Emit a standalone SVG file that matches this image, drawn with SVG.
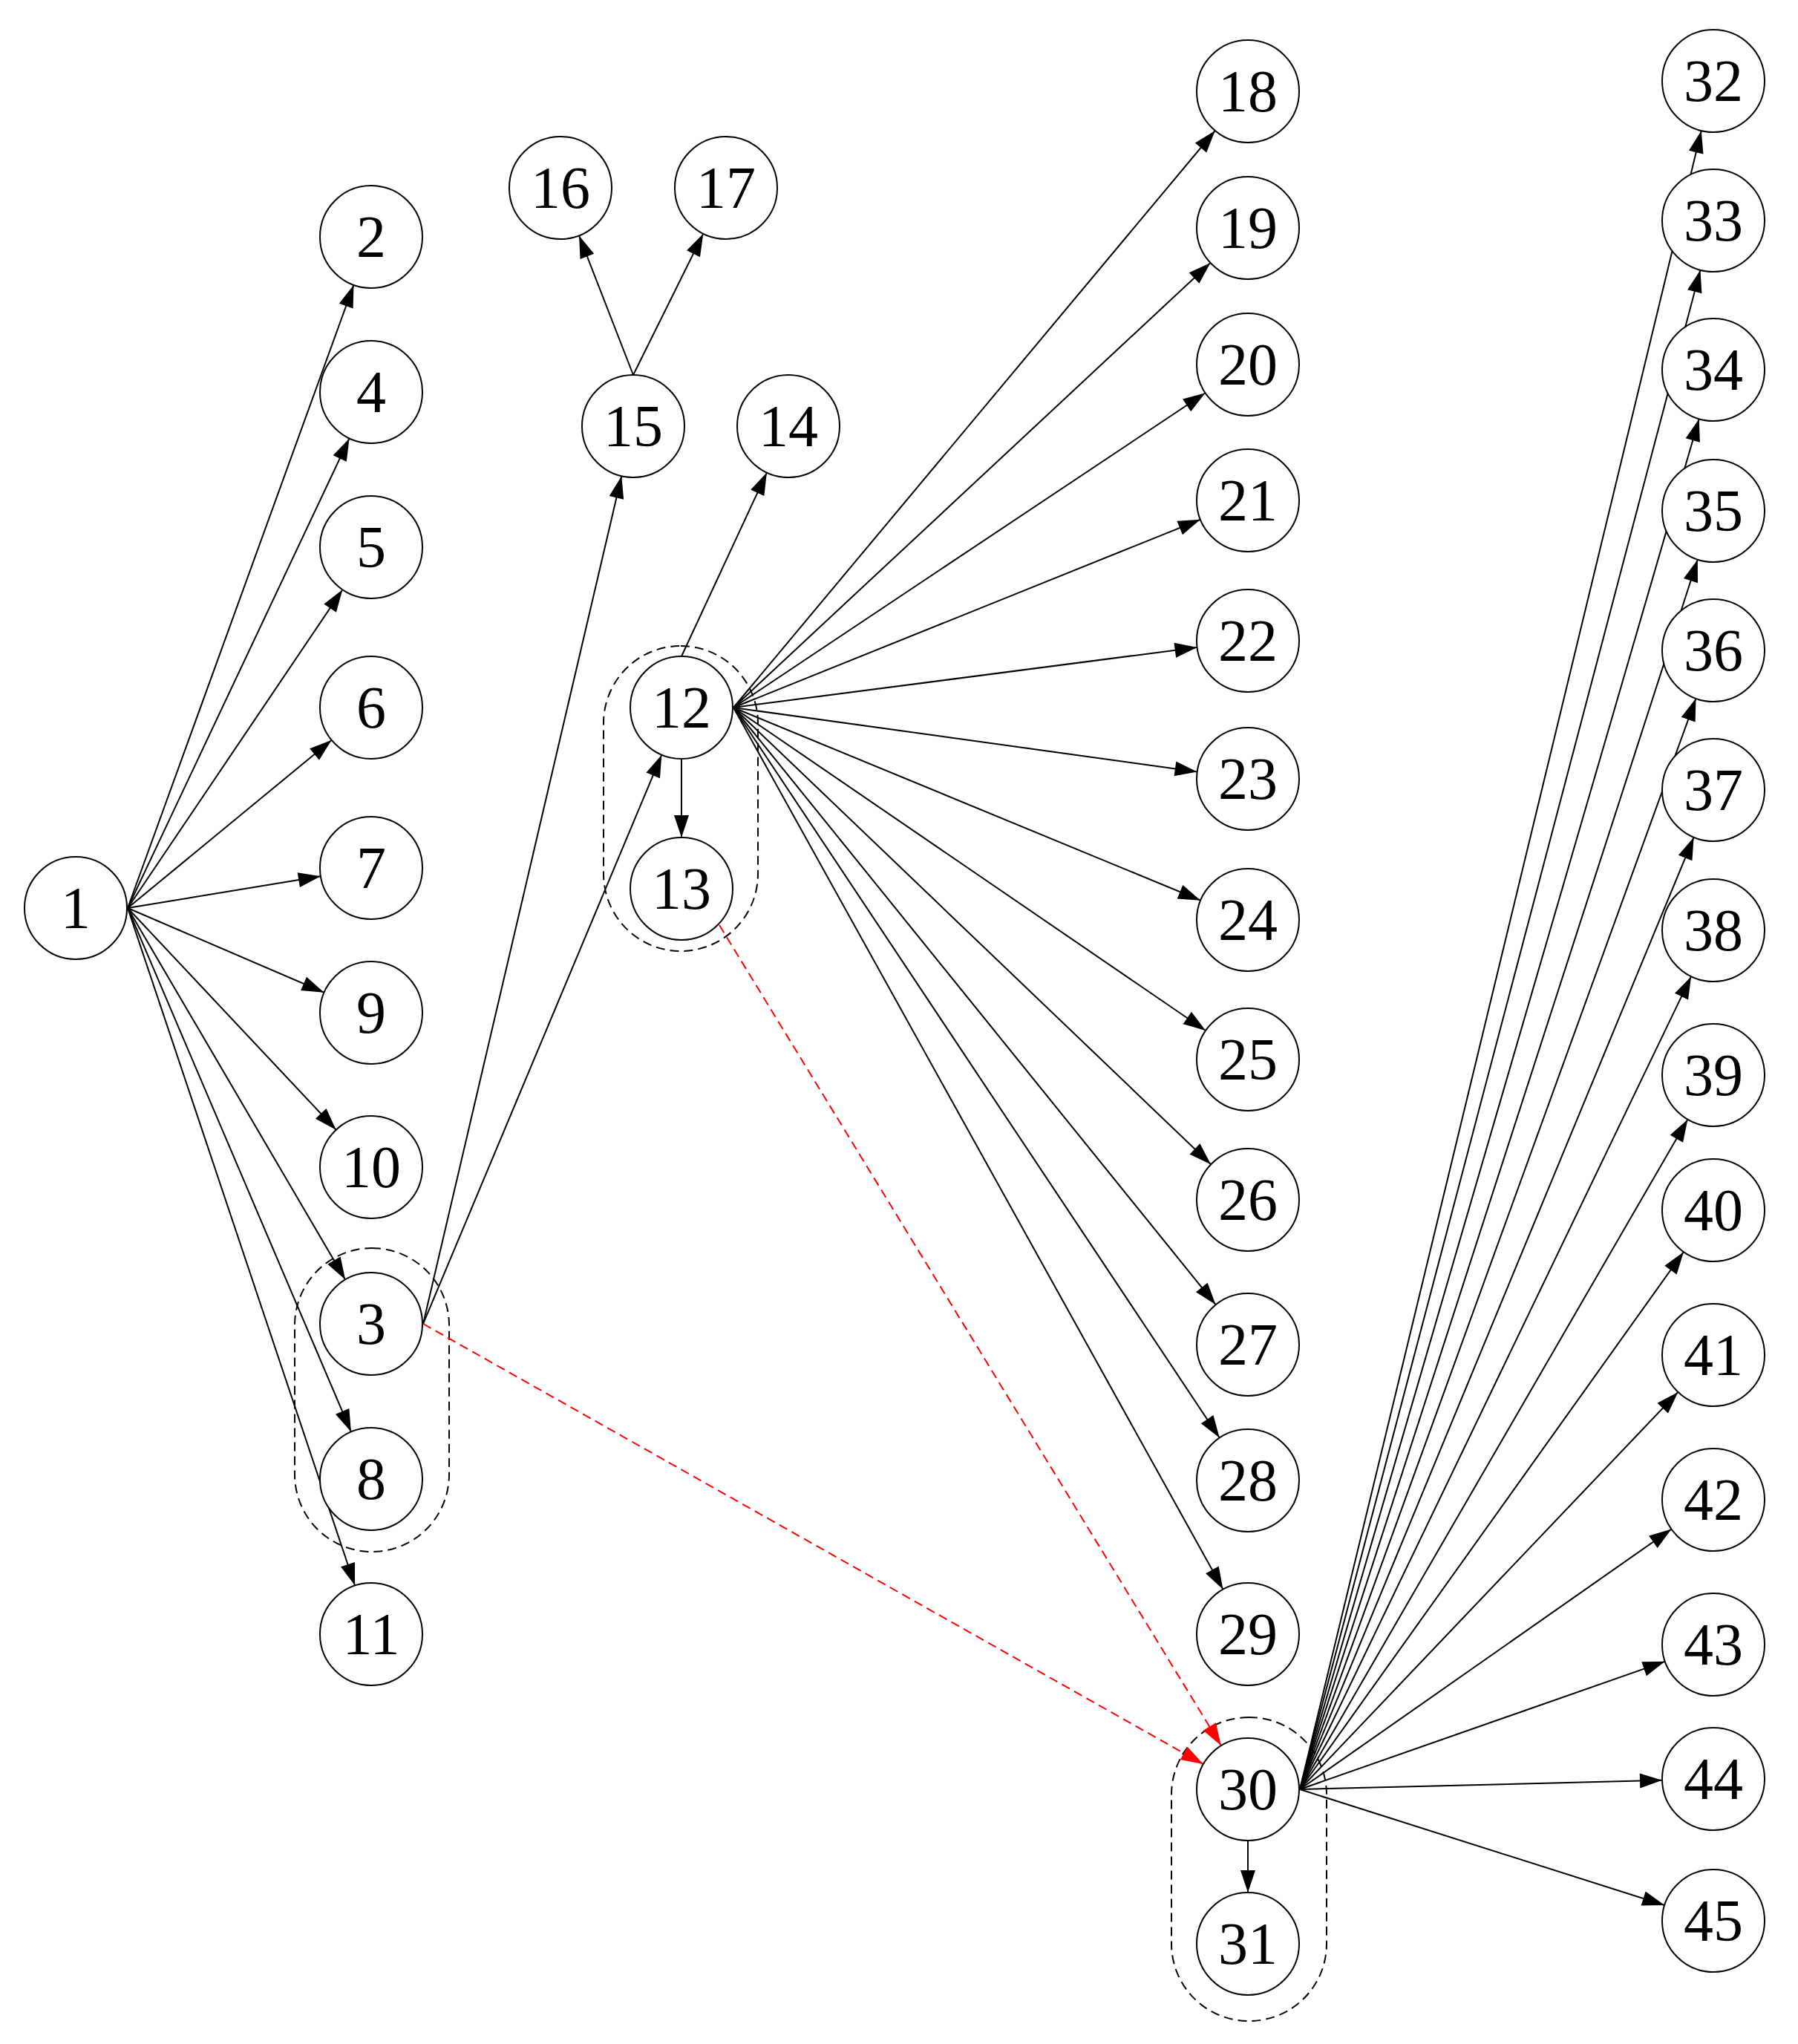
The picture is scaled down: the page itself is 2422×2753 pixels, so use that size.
<svg xmlns="http://www.w3.org/2000/svg" width="2422" height="2753" viewBox="0 0 2422 2753">
<style>
.n circle{fill:#fff;stroke:#000;stroke-width:2}
.n text{font-family:"Liberation Serif",serif;font-size:80px;text-anchor:middle;dominant-baseline:central}
.e line{stroke:#000;stroke-width:2;marker-end:url(#a)}
.r line{stroke:#f00;stroke-width:2;stroke-dasharray:12 7;marker-end:url(#ar)}
.c{fill:none;stroke:#000;stroke-width:2;stroke-dasharray:12 7}
</style>
<defs>
<marker id="a" markerUnits="userSpaceOnUse" markerWidth="110" markerHeight="30" viewBox="-35 -15 110 30" refX="69" refY="0" orient="auto"><path d="M-30,-10 L0,0 L-30,10 z" fill="#000"/></marker>
<marker id="ar" markerUnits="userSpaceOnUse" markerWidth="110" markerHeight="30" viewBox="-35 -15 110 30" refX="69" refY="0" orient="auto"><path d="M-30,-10 L0,0 L-30,10 z" fill="#f00"/></marker>
</defs>
<g id="clusters">
<rect class="c" x="397" y="1681" width="208" height="409" rx="104"/>
<rect class="c" x="813" y="870" width="208" height="411" rx="104"/>
<rect class="c" x="1578" y="2313" width="209" height="409" rx="104"/>
</g>
<g id="connectors">
<g class="e">
<line x1="172" y1="1223" x2="500" y2="319"/>
<line x1="172" y1="1223" x2="500" y2="528"/>
<line x1="172" y1="1223" x2="500" y2="737"/>
<line x1="172" y1="1223" x2="500" y2="953"/>
<line x1="172" y1="1223" x2="500" y2="1169"/>
<line x1="172" y1="1223" x2="500" y2="1364"/>
<line x1="172" y1="1223" x2="500" y2="1572"/>
<line x1="172" y1="1223" x2="500" y2="1783"/>
<line x1="172" y1="1223" x2="500" y2="1992"/>
<line x1="172" y1="1223" x2="500" y2="2201"/>
<line x1="570" y1="1783" x2="853" y2="574"/>
<line x1="570" y1="1783" x2="918" y2="953"/>
<line x1="853" y1="505" x2="755" y2="253"/>
<line x1="853" y1="505" x2="978" y2="253"/>
<line x1="918" y1="884" x2="1062" y2="574"/>
<line x1="918" y1="1022" x2="918" y2="1197"/>
<line x1="988" y1="953" x2="1681" y2="123"/>
<line x1="988" y1="953" x2="1681" y2="307"/>
<line x1="988" y1="953" x2="1681" y2="491"/>
<line x1="988" y1="953" x2="1681" y2="674"/>
<line x1="988" y1="953" x2="1681" y2="863"/>
<line x1="988" y1="953" x2="1681" y2="1049"/>
<line x1="988" y1="953" x2="1681" y2="1239"/>
<line x1="988" y1="953" x2="1681" y2="1427"/>
<line x1="988" y1="953" x2="1681" y2="1616"/>
<line x1="988" y1="953" x2="1681" y2="1811"/>
<line x1="988" y1="953" x2="1681" y2="1994"/>
<line x1="988" y1="953" x2="1681" y2="2201"/>
<line x1="1681" y1="2479" x2="1681" y2="2618"/>
<line x1="1751" y1="2410" x2="2308" y2="109"/>
<line x1="1751" y1="2410" x2="2308" y2="297"/>
<line x1="1751" y1="2410" x2="2308" y2="498"/>
<line x1="1751" y1="2410" x2="2308" y2="688"/>
<line x1="1751" y1="2410" x2="2308" y2="876"/>
<line x1="1751" y1="2410" x2="2308" y2="1064"/>
<line x1="1751" y1="2410" x2="2308" y2="1253"/>
<line x1="1751" y1="2410" x2="2308" y2="1448"/>
<line x1="1751" y1="2410" x2="2308" y2="1630"/>
<line x1="1751" y1="2410" x2="2308" y2="1825"/>
<line x1="1751" y1="2410" x2="2308" y2="2020"/>
<line x1="1751" y1="2410" x2="2308" y2="2215"/>
<line x1="1751" y1="2410" x2="2308" y2="2396"/>
<line x1="1751" y1="2410" x2="2308" y2="2587"/>
</g>
<g class="r">
<line x1="570" y1="1783" x2="1681" y2="2410"/>
<line x1="969" y1="1246" x2="1681" y2="2410"/>
</g>
</g>
<g id="nodes">
<g id="n1" class="n"><circle cx="102" cy="1223" r="69"/><text x="102" y="1223">1</text></g>
<g id="n2" class="n"><circle cx="500" cy="319" r="69"/><text x="500" y="319">2</text></g>
<g id="n4" class="n"><circle cx="500" cy="528" r="69"/><text x="500" y="528">4</text></g>
<g id="n5" class="n"><circle cx="500" cy="737" r="69"/><text x="500" y="737">5</text></g>
<g id="n6" class="n"><circle cx="500" cy="953" r="69"/><text x="500" y="953">6</text></g>
<g id="n7" class="n"><circle cx="500" cy="1169" r="69"/><text x="500" y="1169">7</text></g>
<g id="n9" class="n"><circle cx="500" cy="1364" r="69"/><text x="500" y="1364">9</text></g>
<g id="n10" class="n"><circle cx="500" cy="1572" r="69"/><text x="500" y="1572">10</text></g>
<g id="n3" class="n"><circle cx="500" cy="1783" r="69"/><text x="500" y="1783">3</text></g>
<g id="n8" class="n"><circle cx="500" cy="1992" r="69"/><text x="500" y="1992">8</text></g>
<g id="n11" class="n"><circle cx="500" cy="2201" r="69"/><text x="500" y="2201">11</text></g>
<g id="n15" class="n"><circle cx="853" cy="574" r="69"/><text x="853" y="574">15</text></g>
<g id="n14" class="n"><circle cx="1062" cy="574" r="69"/><text x="1062" y="574">14</text></g>
<g id="n16" class="n"><circle cx="755" cy="253" r="69"/><text x="755" y="253">16</text></g>
<g id="n17" class="n"><circle cx="978" cy="253" r="69"/><text x="978" y="253">17</text></g>
<g id="n12" class="n"><circle cx="918" cy="953" r="69"/><text x="918" y="953">12</text></g>
<g id="n13" class="n"><circle cx="918" cy="1197" r="69"/><text x="918" y="1197">13</text></g>
<g id="n18" class="n"><circle cx="1681" cy="123" r="69"/><text x="1681" y="123">18</text></g>
<g id="n19" class="n"><circle cx="1681" cy="307" r="69"/><text x="1681" y="307">19</text></g>
<g id="n20" class="n"><circle cx="1681" cy="491" r="69"/><text x="1681" y="491">20</text></g>
<g id="n21" class="n"><circle cx="1681" cy="674" r="69"/><text x="1681" y="674">21</text></g>
<g id="n22" class="n"><circle cx="1681" cy="863" r="69"/><text x="1681" y="863">22</text></g>
<g id="n23" class="n"><circle cx="1681" cy="1049" r="69"/><text x="1681" y="1049">23</text></g>
<g id="n24" class="n"><circle cx="1681" cy="1239" r="69"/><text x="1681" y="1239">24</text></g>
<g id="n25" class="n"><circle cx="1681" cy="1427" r="69"/><text x="1681" y="1427">25</text></g>
<g id="n26" class="n"><circle cx="1681" cy="1616" r="69"/><text x="1681" y="1616">26</text></g>
<g id="n27" class="n"><circle cx="1681" cy="1811" r="69"/><text x="1681" y="1811">27</text></g>
<g id="n28" class="n"><circle cx="1681" cy="1994" r="69"/><text x="1681" y="1994">28</text></g>
<g id="n29" class="n"><circle cx="1681" cy="2201" r="69"/><text x="1681" y="2201">29</text></g>
<g id="n30" class="n"><circle cx="1681" cy="2410" r="69"/><text x="1681" y="2410">30</text></g>
<g id="n31" class="n"><circle cx="1681" cy="2618" r="69"/><text x="1681" y="2618">31</text></g>
<g id="n32" class="n"><circle cx="2308" cy="109" r="69"/><text x="2308" y="109">32</text></g>
<g id="n33" class="n"><circle cx="2308" cy="297" r="69"/><text x="2308" y="297">33</text></g>
<g id="n34" class="n"><circle cx="2308" cy="498" r="69"/><text x="2308" y="498">34</text></g>
<g id="n35" class="n"><circle cx="2308" cy="688" r="69"/><text x="2308" y="688">35</text></g>
<g id="n36" class="n"><circle cx="2308" cy="876" r="69"/><text x="2308" y="876">36</text></g>
<g id="n37" class="n"><circle cx="2308" cy="1064" r="69"/><text x="2308" y="1064">37</text></g>
<g id="n38" class="n"><circle cx="2308" cy="1253" r="69"/><text x="2308" y="1253">38</text></g>
<g id="n39" class="n"><circle cx="2308" cy="1448" r="69"/><text x="2308" y="1448">39</text></g>
<g id="n40" class="n"><circle cx="2308" cy="1630" r="69"/><text x="2308" y="1630">40</text></g>
<g id="n41" class="n"><circle cx="2308" cy="1825" r="69"/><text x="2308" y="1825">41</text></g>
<g id="n42" class="n"><circle cx="2308" cy="2020" r="69"/><text x="2308" y="2020">42</text></g>
<g id="n43" class="n"><circle cx="2308" cy="2215" r="69"/><text x="2308" y="2215">43</text></g>
<g id="n44" class="n"><circle cx="2308" cy="2396" r="69"/><text x="2308" y="2396">44</text></g>
<g id="n45" class="n"><circle cx="2308" cy="2587" r="69"/><text x="2308" y="2587">45</text></g>
</g>
</svg>
